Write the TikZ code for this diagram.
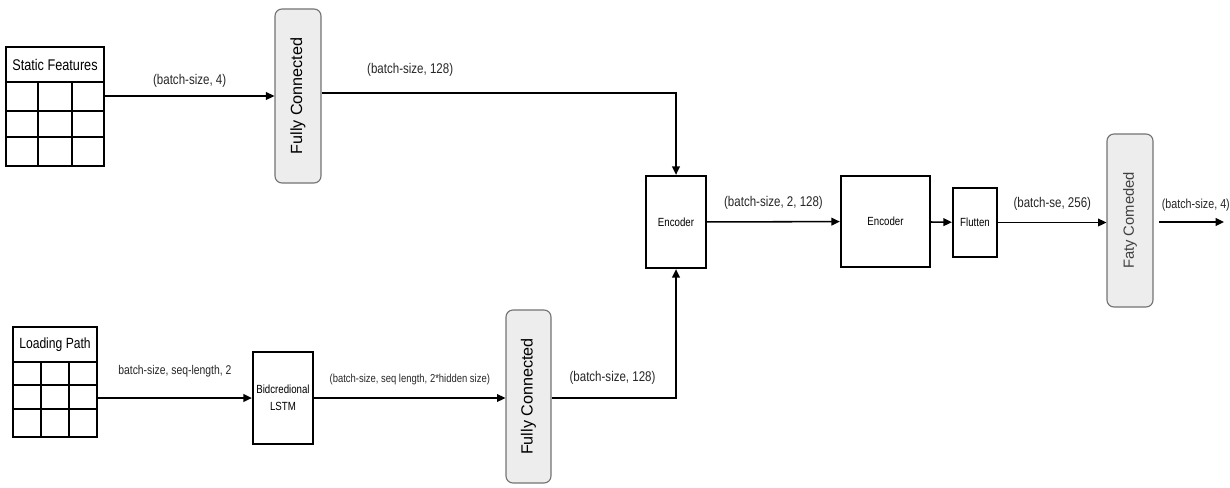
\documentclass[tikz,border=0pt]{standalone}
\usepackage{fontspec}
\setmainfont{Liberation Sans}
\newfontfamily\narrowsf[FakeStretch=0.82]{Liberation Sans}
\usetikzlibrary{positioning,arrows.meta}

\tikzset{
  layer/.style={draw,line width=1.6pt,inner sep=1pt,align=center,font=\narrowsf\fontsize{8.4}{12}\selectfont},
  dense/.style={draw=black!55,line width=0.8pt,fill=black!7,rounded corners=5pt,inner sep=0pt},
  tablebox/.style={draw,line width=1.2pt,inner sep=0pt},
  grid/.style={line width=1pt},
  dimlbl/.style={font=\narrowsf\fontsize{10}{12}\selectfont,text=black!85,inner sep=0pt},
  flow/.style={line width=1.1pt,-{Triangle[length=6pt,width=5.5pt]}},
}

\begin{document}
\begin{tikzpicture}[x=0.025cm,y=-0.025cm]
  \useasboundingbox (0,0) rectangle (1230,487);

  \node[tablebox,minimum width=2.45cm,minimum height=2.975cm] (statTab) at (55,106.5) {};
  \node[font=\narrowsf\fontsize{11}{13}\selectfont] (statHead) at (55,65) {Static Features};
  \draw[grid] (6,82) -- (104,82);
  \foreach \y in {111,137} \draw[grid] (6,\y) -- (104,\y);
  \foreach \x in {38,72} \draw[grid] (\x,82) -- (\x,166);

  \node[tablebox,minimum width=2.1cm,minimum height=2.75cm] (loadTab) at (55,382) {};
  \node[font=\narrowsf\fontsize{10.5}{12}\selectfont] (loadHead) at (55,345) {Loading Path};
  \draw[grid] (13,362) -- (97,362);
  \foreach \y in {385,409} \draw[grid] (13,\y) -- (97,\y);
  \foreach \x in {41,69} \draw[grid] (\x,362) -- (\x,437);

  \node[dense,minimum width=1.15cm,minimum height=4.35cm,font=\fontsize{11.5}{13}\selectfont] (fcStat) at (298,96) {\rotatebox{90}{Fully Connected}};
  \node[dense,minimum width=1.125cm,minimum height=4.325cm,font=\fontsize{11.5}{13}\selectfont] (fcSeq) at (528.5,396.5) {\rotatebox{90}{Fully Connected}};
  \node[dense,minimum width=1.15cm,minimum height=4.325cm,font=\fontsize{10.5}{12}\selectfont,text=black!75] (fcOut) at (1130,220.5) {\rotatebox{90}{Faty Comeded}};

  \node[layer,minimum width=1.5cm,minimum height=2.3cm] (lstm) at (283,398) {Bidcredional\\LSTM};
  \node[layer,minimum width=1.5cm,minimum height=2.3cm] (enc1) at (676,222) {Encoder};
  \node[layer,minimum width=2.225cm,minimum height=2.275cm] (enc2) at (885.5,221.5) {Encoder};
  \node[layer,minimum width=1.1cm,minimum height=1.725cm] (flat) at (975,222.5) {Flutten};
  \coordinate (outEnd) at (1224,222);

  \draw[flow] (fcStat.west -| statTab.east) -- node[dimlbl,above=0.2cm] {(batch-size, 4)} (fcStat.west);
  \draw[flow] ([yshift=0.08cm]fcStat.east) -| node[dimlbl,above=0.4cm,pos=0.125] {(batch-size, 128)} (enc1.north);
  \draw[flow] (lstm.west -| loadTab.east) -- node[dimlbl,above=0.5cm,font=\narrowsf\fontsize{9}{11}\selectfont] {batch-size, seq-length, 2} (lstm.west);
  \draw[flow] (lstm.east) -- node[dimlbl,above=0.3cm,font=\narrowsf\fontsize{8.2}{10}\selectfont] {(batch-size, seq length, 2*hidden size)} (fcSeq.west |- lstm.east);
  \draw[flow] (fcSeq.east |- lstm.east) -| node[dimlbl,above=0.31cm,pos=0.245] {(batch-size, 128)} (enc1.south);
  \draw[flow] (enc1) -- node[dimlbl,above=0.29cm] {(batch-size, 2, 128)} (enc2);
  \draw[flow] (enc2) -- (flat);
  \draw[flow] (flat.east) -- node[dimlbl,above=0.29cm] {(batch-se, 256)} (fcOut.west |- flat.east);
  \draw[flow,shorten <=4pt] (fcOut.east |- outEnd) -- node[dimlbl,above=0.25cm,pos=0.6,font=\narrowsf\fontsize{9.3}{11}\selectfont] {(batch-size, 4)} (outEnd);
\end{tikzpicture}
\end{document}
